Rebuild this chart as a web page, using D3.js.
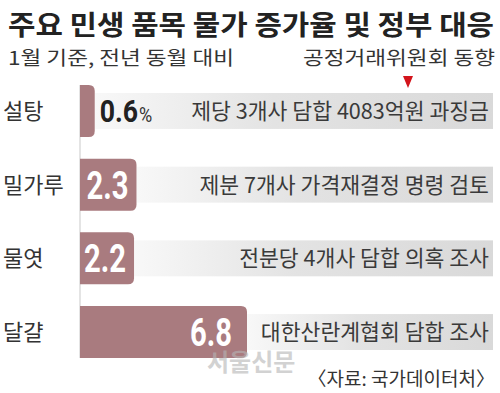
<!DOCTYPE html>
<html>
<head>
<meta charset="utf-8">
<script src="https://cdn.jsdelivr.net/npm/d3@7"></script>
<style>
  body { margin: 0; background: #fff; }
  svg text { font-family: "Noto Sans CJK KR", "Noto Sans", sans-serif; }
</style>
</head>
<body>
<div id="chart"></div>
<script>
// data
const items = ["설탕", "밀가루", "물엿", "달걀"];
const rates = [0.6, 2.3, 2.2, 6.8];
const actions = [
  "제당 3개사 담합 4083억원 과징금",
  "제분 7개사 가격재결정 명령 검토",
  "전분당 4개사 담합 의혹 조사",
  "대한산란계협회 담합 조사"
];

const W = 500, H = 393;
const barColor = "#a97b7f";

const svg = d3.select("#chart").append("svg")
  .attr("width", W).attr("height", H);

const defs = svg.append("defs");
const grad = defs.append("linearGradient").attr("id", "band");
grad.append("stop").attr("offset", "0%").attr("stop-color", "#f8f8f8");
grad.append("stop").attr("offset", "45%").attr("stop-color", "#e3e3e3");
grad.append("stop").attr("offset", "100%").attr("stop-color", "#d9d9d9");

const x = d3.scaleLinear().domain([0, 6.8]).range([80, 247]);
const y = d3.scaleBand().domain(items).range([85, 358]).paddingInner(0.295);

// titles
svg.append("text").attr("x", 8).attr("y", 35)
  .attr("font-size", 27).attr("font-weight", 700).attr("fill", "#222")
  .attr("textLength", 486).attr("lengthAdjust", "spacingAndGlyphs")
  .text("주요 민생 품목 물가 증가율 및 정부 대응");
svg.append("text").attr("x", 8).attr("y", 65)
  .attr("font-size", 19).attr("fill", "#333")
  .attr("textLength", 226).attr("lengthAdjust", "spacingAndGlyphs")
  .text("1월 기준, 전년 동월 대비");
svg.append("text").attr("x", 495).attr("y", 65).attr("text-anchor", "end")
  .attr("font-size", 19).attr("fill", "#333")
  .attr("textLength", 192).attr("lengthAdjust", "spacingAndGlyphs")
  .text("공정거래위원회 동향");
svg.append("path")
  .attr("d", "M403,76 L413,76 L408,88 Z")
  .attr("fill", "#d3141b");

// axis line
svg.append("line")
  .attr("x1", x(0)).attr("x2", x(0))
  .attr("y1", y.range()[0]).attr("y2", y.range()[1])
  .attr("stroke", "#e4e4e4").attr("stroke-width", 2);

const rows = svg.selectAll("g.row").data(items).join("g").attr("class", "row");

// grey bands
rows.append("rect")
  .attr("x", (d, i) => x(rates[i]))
  .attr("y", d => y(d) + 8)
  .attr("width", (d, i) => 493 - x(rates[i]))
  .attr("height", y.bandwidth() - 16)
  .attr("fill", "url(#band)");

// bars with rounded right side
const r = 6;
rows.append("path")
  .attr("d", (d, i) => {
    const x0 = x(0), x1 = x(rates[i]), y0 = y(d), y1 = y(d) + y.bandwidth();
    const rr = Math.min(r, (x1 - x0) / 2);
    return `M${x0},${y0} L${x1 - rr},${y0} Q${x1},${y0} ${x1},${y0 + rr} L${x1},${y1 - rr} Q${x1},${y1} ${x1 - rr},${y1} L${x0},${y1} Z`;
  })
  .attr("fill", barColor);

// category labels
rows.append("text")
  .attr("x", 3)
  .attr("y", d => y(d) + y.bandwidth() / 2 + 8)
  .attr("font-size", 22).attr("fill", "#333")
  .text(d => d);

// value labels
rows.each(function (d, i) {
  const g = d3.select(this);
  const cy = y(d) + y.bandwidth() / 2;
  const label = rates[i].toFixed(1);
  if (i === 0) {
    // outside the short bar, dark, with a smaller %
    const t = g.append("text")
      .attr("transform", `translate(${x(rates[i]) + 5},${cy + 11}) scale(0.86,1)`)
      .attr("fill", "#222")
      .style("font-family", "Roboto, sans-serif");
    t.append("tspan").attr("font-size", 31).attr("font-weight", 700).text(label);
    t.append("tspan").attr("font-size", 21).attr("fill", "#333").attr("dx", 1).text("%");
  } else {
    g.append("text")
      .attr("x", x(rates[i]) - (i === 3 ? 15 : 8)).attr("y", cy + 14)
      .attr("text-anchor", "end")
      .attr("font-size", 39).attr("font-weight", 700).attr("fill", "#fff")
      .attr("textLength", 42).attr("lengthAdjust", "spacingAndGlyphs")
      .style("font-family", "Roboto, sans-serif")
      .text(label);
  }
});

// actions
rows.append("text")
  .attr("x", 489)
  .attr("y", d => y(d) + y.bandwidth() / 2 + 8)
  .attr("text-anchor", "end")
  .attr("font-size", 21.6).attr("fill", "#3a3a3a")
  .text((d, i) => actions[i]);

// watermark
svg.append("text").attr("x", 207).attr("y", 371)
  .attr("font-size", 24).attr("font-weight", 700)
  .attr("fill", "#b5b5b5").attr("opacity", 0.6)
  .text("서울신문");

// source
svg.append("text").attr("x", 495).attr("y", 386).attr("text-anchor", "end")
  .attr("font-size", 19).attr("fill", "#333")
  .text("〈자료: 국가데이터처〉");
</script>
</body>
</html>
